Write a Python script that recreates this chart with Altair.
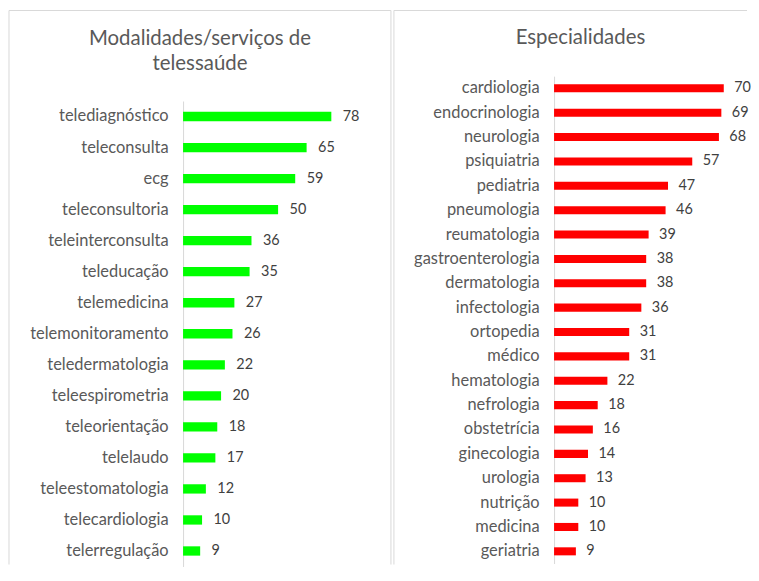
import altair as alt
import pandas as pd

FONT = "Lato"

mod_cats = ["telediagnóstico", "teleconsulta", "ecg", "teleconsultoria", "teleinterconsulta",
            "teleducação", "telemedicina", "telemonitoramento", "teledermatologia",
            "teleespirometria", "teleorientação", "telelaudo", "teleestomatologia",
            "telecardiologia", "telerregulação"]
mod_vals = [78, 65, 59, 50, 36, 35, 27, 26, 22, 20, 18, 17, 12, 10, 9]

esp_cats = ["cardiologia", "endocrinologia", "neurologia", "psiquiatria", "pediatria",
            "pneumologia", "reumatologia", "gastroenterologia", "dermatologia", "infectologia",
            "ortopedia", "médico", "hematologia", "nefrologia", "obstetrícia", "ginecologia",
            "urologia", "nutrição", "medicina", "geriatria"]
esp_vals = [70, 69, 68, 57, 47, 46, 39, 38, 38, 36, 31, 31, 22, 18, 16, 14, 13, 10, 10, 9]

mod_title = ["Modalidades/serviços de", "telessaúde"]
esp_title = ["Especialidades"]

BORDER = "#d9d9d9"


def panel(cats, vals, color, xmax, w, h, yrange, pin, titles, tx, ty, frame, lsize, lpad, vdx):
    df = pd.DataFrame({"cat": cats, "val": vals})
    base = alt.Chart(df)
    y = alt.Y("cat:N", sort=cats,
              scale=alt.Scale(paddingInner=pin, paddingOuter=pin / 2, range=yrange),
              axis=alt.Axis(title=None, ticks=False, grid=False, domainColor=BORDER,
                            domainWidth=1, labelColor="#595959", labelFont=FONT,
                            labelFontSize=lsize, labelPadding=lpad))
    x = alt.X("val:Q", scale=alt.Scale(domain=[0, xmax]), axis=None)
    bars = base.mark_bar(color=color).encode(x=x, y=y)
    labels = base.mark_text(align="left", baseline="middle", dx=vdx, font=FONT,
                            fontSize=14.5, color="#404040").encode(x=x, y=y, text="val:Q")
    one = pd.DataFrame({"k": [0]})
    fx0, fy0, fx1, fy1, right_edge = frame
    layers = [
        alt.Chart(one).mark_rule(color=BORDER, strokeWidth=1).encode(
            x=alt.value(fx0), x2=alt.value(fx1), y=alt.value(fy0)),
        alt.Chart(one).mark_rule(color=BORDER, strokeWidth=1).encode(
            x=alt.value(fx0), y=alt.value(fy0), y2=alt.value(fy1)),
    ]
    if right_edge:
        layers.append(alt.Chart(one).mark_rule(color=BORDER, strokeWidth=1).encode(
            x=alt.value(fx1), y=alt.value(fy0), y2=alt.value(fy1)))
    layers += [bars, labels]
    for i, t in enumerate(titles):
        layers.append(
            alt.Chart(one).mark_text(align="center", baseline="middle", font=FONT,
                                     fontSize=20.5, color="#595959").encode(
                x=alt.value(tx), y=alt.value(ty + 25 * i), text=alt.value(t)))
    return alt.layer(*layers).properties(width=w, height=h)


left = panel(mod_cats, mod_vals, "#00ff00", 90, 172, 493, [25, 493], 0.70,
             mod_title, 17, -37, (-175, -66, 209, 491, True), 16.5, 15, 11.5)
right = panel(esp_cats, esp_vals, "#ff0000", 80, 195, 490, [0, 490], 0.67,
              esp_title, 26.5, -38, (-161, -66, 194, 491, False), 16.5, 15, 10.5)

chart = alt.hconcat(left, right, spacing=201, bounds="flush").properties(
    padding=0, background="white"
).configure_view(strokeWidth=0)

chart.save("out.html", embed_options={"renderer": "svg", "actions": False})
